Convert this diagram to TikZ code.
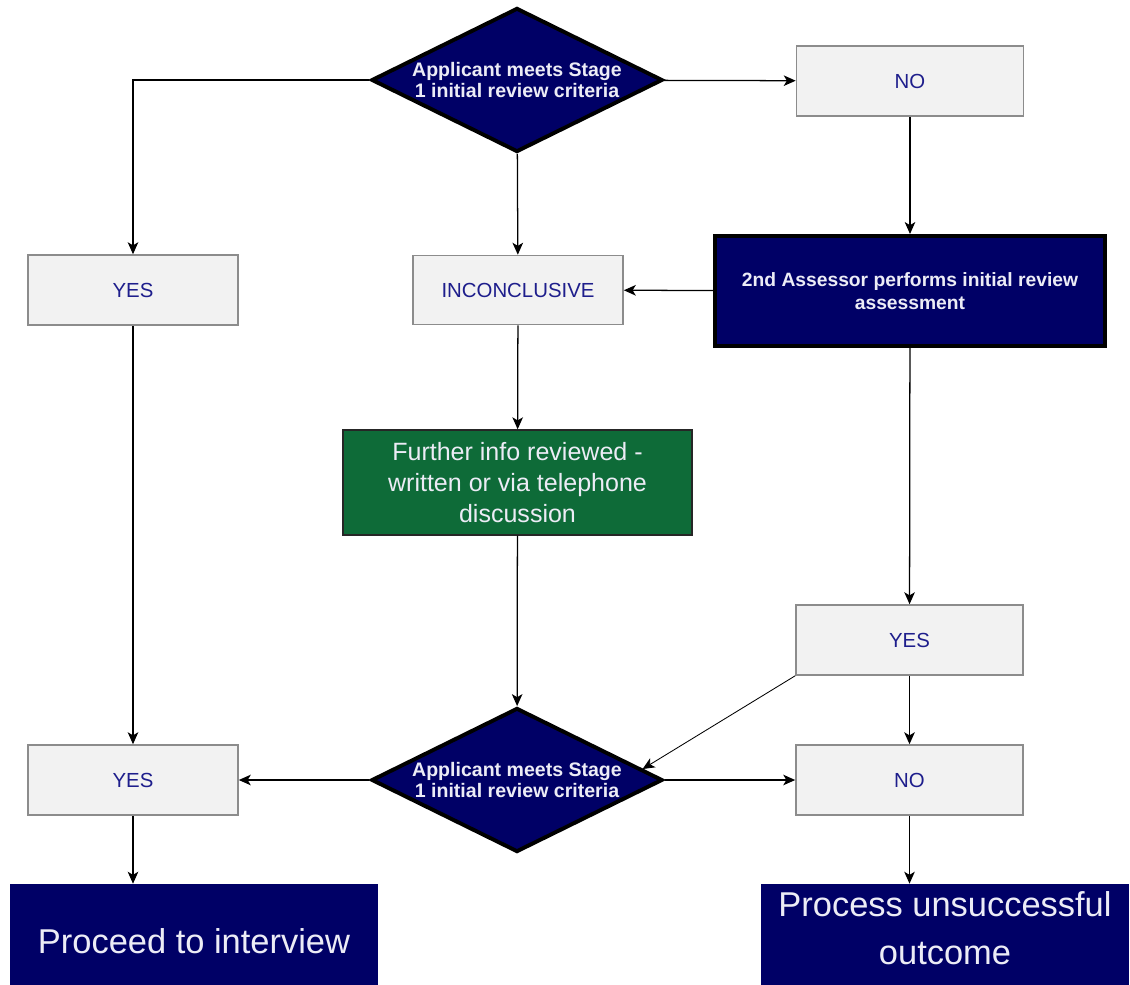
\documentclass[tikz,border=0pt]{standalone}
\usepackage{fontspec}
\setmainfont{Liberation Sans}
\usetikzlibrary{shapes.geometric, arrows.meta}

\definecolor{navy}{RGB}{0,0,102}
\definecolor{darkgreen}{RGB}{14,107,56}
\definecolor{boxfill}{RGB}{242,242,242}
\definecolor{boxline}{RGB}{140,140,140}
\definecolor{answerblue}{RGB}{30,30,140}
\definecolor{paletext}{RGB}{236,236,246}

\begin{document}
\begin{tikzpicture}[x=0.025cm, y=-0.025cm]

\tikzset{answer/.style = {shape=rectangle,draw=boxline,fill=boxfill,line width=1.1pt,minimum width=5.25cm,minimum height=1.75cm,text=answerblue,font=\fontsize{14.5}{17}\selectfont}}
\tikzset{decision/.style = {shape=diamond,draw=black,fill=navy,line width=2.8pt,aspect=2,inner sep=0pt,minimum width=7.275cm,minimum height=3.6cm,align=center,text=paletext,font=\bfseries\fontsize{13.9}{15.2}\selectfont}}
\tikzset{assess/.style = {shape=rectangle,draw=black,fill=navy,line width=2.8pt,minimum width=9.75cm,minimum height=2.75cm,align=center,text=paletext,font=\bfseries\fontsize{13.7}{16.4}\selectfont}}
\tikzset{finalbox/.style = {shape=rectangle,fill=navy,minimum width=9.2cm,minimum height=2.85cm,align=center,text=paletext,font=\fontsize{24.5}{34}\selectfont}}
\tikzset{edge/.style = {->,> = {Stealth[length=8.5pt,width=7.5pt,inset=2.2pt]},line width=0.9pt}}

\useasboundingbox (0,0) rectangle (1130,985);

%nodes
\node[decision] (1) at (517,80) {Applicant meets Stage\\ 1 initial review criteria};
\node[answer, minimum width=5.675cm] (2) at (910,81) {NO};
\node[answer] (3) at (133,290) {YES};
\node[answer, minimum height=1.725cm] (4) at (518,290) {INCONCLUSIVE};
\node[assess] (5) at (910,291) {2nd Assessor performs initial review\\assessment};
\node[shape=rectangle, draw=black!85, fill=darkgreen, line width=1pt, minimum width=8.725cm, minimum height=2.625cm, align=center, text=paletext, font=\fontsize{17.8}{22}\selectfont] (6) at (517.5,482.5) {Further info reviewed -\\written or via telephone\\discussion};
\node[answer, minimum width=5.675cm] (7) at (909.5,640) {YES};
\node[decision] (8) at (517,780) {Applicant meets Stage\\ 1 initial review criteria};
\node[answer] (9) at (133,780) {YES};
\node[answer, minimum width=5.675cm] (10) at (909.5,780) {NO};
\node[finalbox] (11) at (194,941) {Proceed to interview};
\node[finalbox, label={[text=paletext, align=center, yshift=0.33cm, font=\fontsize{24.5}{34}\selectfont]center:Process unsuccessful\\outcome}] (12) at (945,941) {};

%edges
\draw [edge] (1) -| (3);
\draw [edge] (1) -- (4);
\draw [edge] (1) -- (2);
\draw [edge] (2) -- (5);
\draw [edge] (5) -- (4);
\draw [edge] (5) -- (7);
\draw [edge] (4) -- (6);
\draw [edge] (6) -- (8);
\draw [edge] (3) -- (9);
\draw [edge, line width=0.6pt] (7.south west) -- (8.5);
\draw [edge] (7) -- (10);
\draw [edge] (8) -- (9);
\draw [edge] (8) -- (10);
\draw [edge] (9) -- (9 |- 11.north);
\draw [edge] (10) -- (10 |- 12.north);

\end{tikzpicture}
\end{document}
